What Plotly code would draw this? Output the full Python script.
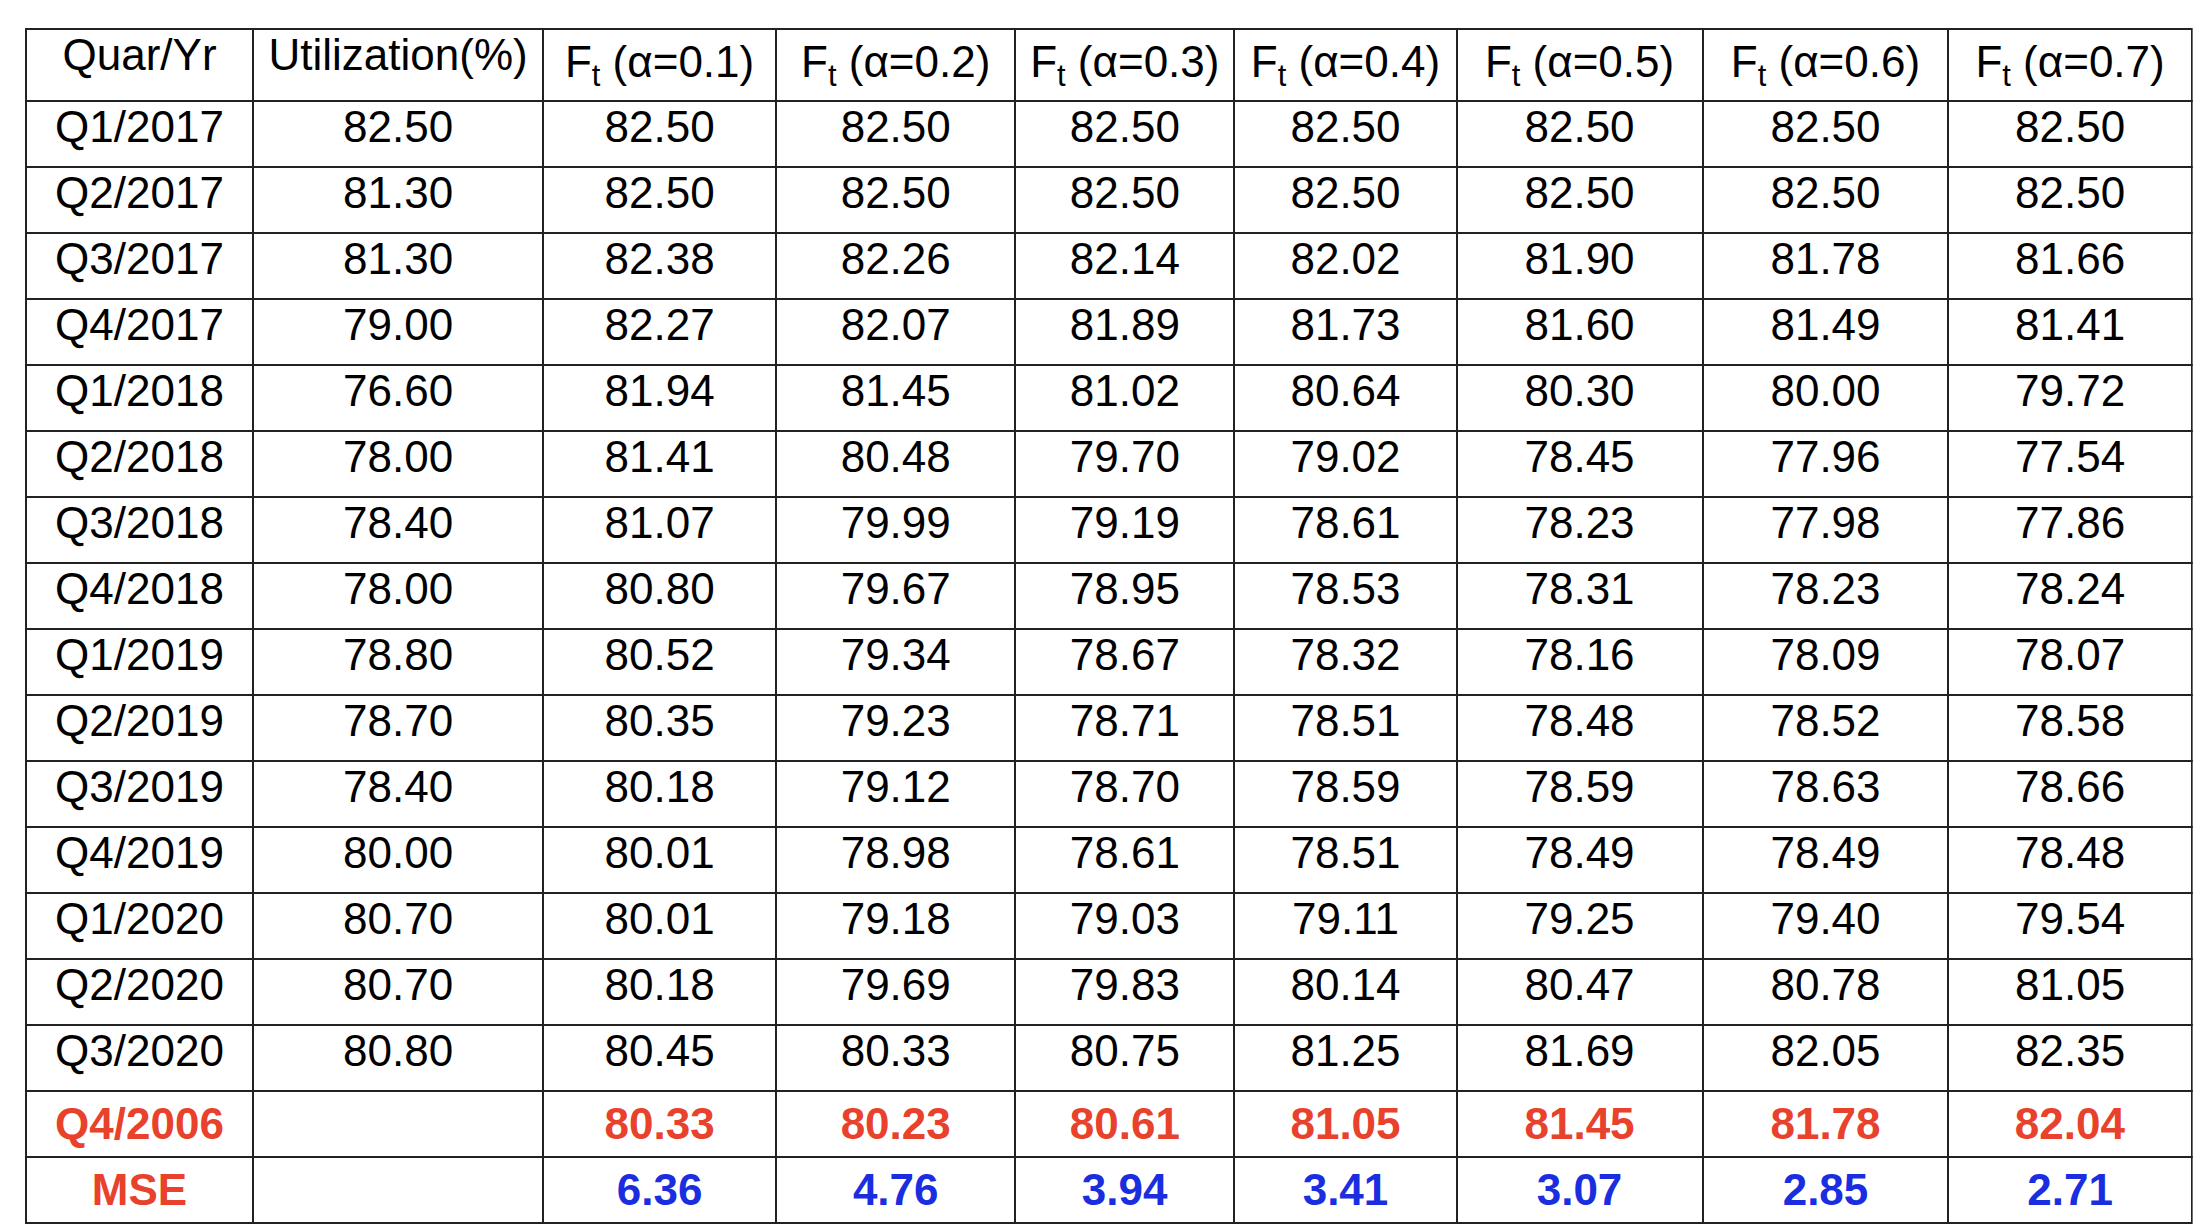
import plotly.graph_objects as go

quarters = ['Q1/2017', 'Q2/2017', 'Q3/2017', 'Q4/2017', 'Q1/2018', 'Q2/2018', 'Q3/2018',
            'Q4/2018', 'Q1/2019', 'Q2/2019', 'Q3/2019', 'Q4/2019', 'Q1/2020', 'Q2/2020', 'Q3/2020']
utilization = [82.50, 81.30, 81.30, 79.00, 76.60, 78.00, 78.40, 78.00, 78.80, 78.70, 78.40,
               80.00, 80.70, 80.70, 80.80]
alphas = ['0.1', '0.2', '0.3', '0.4', '0.5', '0.6', '0.7']
f_a1 = [82.50, 82.50, 82.38, 82.27, 81.94, 81.41, 81.07, 80.80, 80.52, 80.35, 80.18, 80.01, 80.01, 80.18, 80.45]
f_a2 = [82.50, 82.50, 82.26, 82.07, 81.45, 80.48, 79.99, 79.67, 79.34, 79.23, 79.12, 78.98, 79.18, 79.69, 80.33]
f_a3 = [82.50, 82.50, 82.14, 81.89, 81.02, 79.70, 79.19, 78.95, 78.67, 78.71, 78.70, 78.61, 79.03, 79.83, 80.75]
f_a4 = [82.50, 82.50, 82.02, 81.73, 80.64, 79.02, 78.61, 78.53, 78.32, 78.51, 78.59, 78.51, 79.11, 80.14, 81.25]
f_a5 = [82.50, 82.50, 81.90, 81.60, 80.30, 78.45, 78.23, 78.31, 78.16, 78.48, 78.59, 78.49, 79.25, 80.47, 81.69]
f_a6 = [82.50, 82.50, 81.78, 81.49, 80.00, 77.96, 77.98, 78.23, 78.09, 78.52, 78.63, 78.49, 79.40, 80.78, 82.05]
f_a7 = [82.50, 82.50, 81.66, 81.41, 79.72, 77.54, 77.86, 78.24, 78.07, 78.58, 78.66, 78.48, 79.54, 81.05, 82.35]
forecast_label = 'Q4/2006'
forecast = [80.33, 80.23, 80.61, 81.05, 81.45, 81.78, 82.04]
mse = [6.36, 4.76, 3.94, 3.41, 3.07, 2.85, 2.71]

RED = '#e8412c'
BLUE = '#1a2ee0'

series = [f_a1, f_a2, f_a3, f_a4, f_a5, f_a6, f_a7]
header = ['Quar/Yr', 'Utilization(%)'] + [f'F<sub>t</sub> (α={a})' for a in alphas]

n = len(quarters)
cols = [quarters + [f'<b>{forecast_label}</b>', '<b>MSE</b>'],
        [f'{v:.2f}' for v in utilization] + ['', '']]
colors = [['black'] * n + [RED, RED], ['black'] * (n + 2)]
for i, s in enumerate(series):
    cols.append([f'{v:.2f}' for v in s] + [f'<b>{forecast[i]:.2f}</b>', f'<b>{mse[i]:.2f}</b>'])
    colors.append(['black'] * n + [RED, BLUE])

fig = go.Figure(go.Table(
    columnwidth=[162, 206, 166, 170, 156, 158, 175, 175, 173],
    header=dict(values=header, height=66, align='center', fill_color='white',
                line=dict(color='#222', width=2),
                font=dict(family='Liberation Sans', size=44, color='black')),
    cells=dict(values=cols, height=66, align='center', fill_color='white',
               line=dict(color='#222', width=2),
               font=dict(family='Liberation Sans', size=44, color=colors)),
    domain=dict(x=[0.008, 0.99], y=[0, 0.983]),
))
fig.update_layout(width=2206, height=1228, margin=dict(l=0, r=0, t=0, b=0),
                  paper_bgcolor='white')
fig.write_html('out.html')
